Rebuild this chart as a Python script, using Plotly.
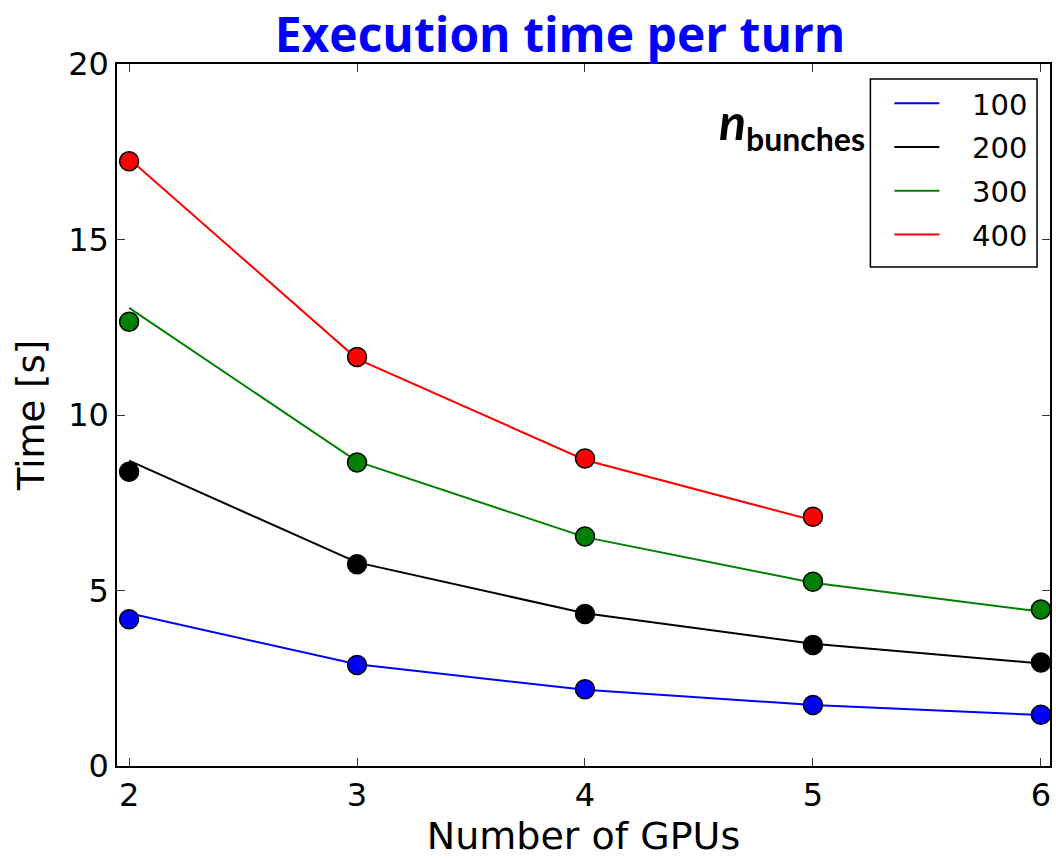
import plotly.graph_objects as go

gpus = [2, 3, 4, 5, 6]
gpus_400 = [2, 3, 4, 5]
labels = ["100", "200", "300", "400"]
colors = ["#0000ff", "#000000", "#008000", "#ff0000"]

# measured points (markers)
meas_100 = [4.18, 2.88, 2.19, 1.74, 1.46]
meas_200 = [8.38, 5.75, 4.33, 3.45, 2.95]
meas_300 = [12.66, 8.65, 6.54, 5.25, 4.46]
meas_400 = [17.23, 11.65, 8.76, 7.10]

# model curves (lines)
model_100 = [4.35, 2.90, 2.17, 1.74, 1.45]
model_200 = [8.70, 5.80, 4.35, 3.48, 2.92]
model_300 = [13.05, 8.68, 6.52, 5.22, 4.40]
model_400 = [17.30, 11.60, 8.72, 7.00]

xs = [gpus, gpus, gpus, gpus_400]
models = [model_100, model_200, model_300, model_400]
meas = [meas_100, meas_200, meas_300, meas_400]

# plot-area pixel geometry helpers
L, R, T, B = 117, 1052, 64, 766
def px(xp):
    return (xp - L) / (R - L)
def py(yp):
    return (B - yp) / (B - T)

fig = go.Figure()
for x, m, lab, c in zip(xs, models, labels, colors):
    fig.add_trace(go.Scatter(x=x, y=m, mode="lines", name="&nbsp;&nbsp;&nbsp;" + lab,
                             legendgroup=lab,
                             line=dict(color=c, width=2)))
for x, m, lab, c in zip(xs, meas, labels, colors):
    fig.add_trace(go.Scatter(x=x, y=m, mode="markers", name=lab, showlegend=False,
                             legendgroup=lab,
                             marker=dict(color=c, size=19, line=dict(color="black", width=1.5))))

axis_common = dict(showline=True, mirror="ticks", linecolor="black", linewidth=1.5,
                   ticks="inside", ticklen=8, tickcolor="#333", tickwidth=1,
                   showgrid=False, zeroline=False,
                   tickfont=dict(family="DejaVu Sans", size=32, color="black"))

fig.update_layout(
    width=1056, height=859,
    margin=dict(l=L, r=1056 - R, t=T, b=859 - B),
    plot_bgcolor="white", paper_bgcolor="white",
    title=dict(text="<b>Execution time per turn</b>", x=560/1056, xanchor="center",
               y=1 - 35/859, yanchor="middle",
               font=dict(family="Open Sans", size=48, color="#0000ff")),
    xaxis=dict(range=[1.947, 6.04], tickvals=gpus, **axis_common,
               title=dict(text="Number of GPUs", standoff=6,
                          font=dict(family="DejaVu Sans", size=38, color="black"))),
    yaxis=dict(range=[0, 20], tickvals=[0, 5, 10, 15, 20], **axis_common,
               title=dict(text="Time [s]", standoff=12,
                          font=dict(family="DejaVu Sans", size=37, color="black"))),
    legend=dict(x=px(891), xanchor="left", y=py(78), yanchor="top",
                borderwidth=0, bgcolor="rgba(0,0,0,0)",
                traceorder="grouped", tracegroupgap=3, itemwidth=45,
                font=dict(family="DejaVu Sans", size=29, color="black")),
    shapes=[dict(type="rect", xref="paper", yref="paper",
                 x0=px(872), x1=px(1039), y0=py(267), y1=py(79),
                 line=dict(color="black", width=1.5), fillcolor="white", layer="below")],
    annotations=[dict(text="<b><i>n</i></b><sub><span style='font-size:32px'><b>bunches</b></span></sub>",
                      xref="paper", yref="paper",
                      x=px(869), y=py(125),
                      xanchor="right", yanchor="middle", showarrow=False,
                      font=dict(family="Lato", size=50, color="black"))],
)

fig.write_html("out.html")
